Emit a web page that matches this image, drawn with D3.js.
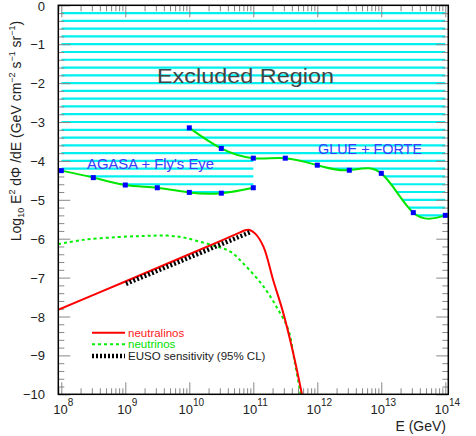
<!DOCTYPE html>
<html>
<head>
<meta charset="utf-8">
<script src="https://cdnjs.cloudflare.com/ajax/libs/d3/7.8.5/d3.min.js"></script>
<style>
body { margin: 0; background: #fff; }
text { font-family: "Liberation Sans", Arial, Helvetica, sans-serif; }
</style>
</head>
<body>
<div id="chart"></div>
<script>
// values: log10(E / GeV) and log10(E^2 dPhi/dE)
const agasaLogE = [8, 8.5, 9, 9.5, 10, 10.5, 11];
const agasaFlux = [-4.25, -4.43, -4.62, -4.69, -4.81, -4.83, -4.69];

const glueLogE = [10, 10.5, 11, 11.5, 12, 12.5, 13, 13.5, 14];
const glueFlux = [-3.15, -3.68, -3.93, -3.93, -4.11, -4.24, -4.32, -5.33, -5.40];

const neutralinoLogE = [7.95, 9, 10, 10.5, 10.75, 10.86, 10.93, 11.03, 11.16, 11.31, 11.47, 11.625, 11.76];
const neutralinoFlux = [-7.83, -7.10, -6.40, -6.05, -5.87, -5.79, -5.77, -5.87, -6.21, -7.06, -7.92, -8.95, -10.0];

const neutrinoLogE = [7.95, 8.34, 8.87, 9.3, 9.65, 9.91, 10.17, 10.43, 10.64, 10.84, 11.16, 11.39, 11.55, 11.65, 11.74];
const neutrinoFlux = [-6.14, -6.03, -5.96, -5.93, -5.92, -5.97, -6.08, -6.20, -6.33, -6.63, -7.23, -7.83, -8.35, -9.2, -10.0];

const eusoLogE = [9.01, 10.97];
const eusoFlux = [-7.16, -5.82];

const xTickExp = [8, 9, 10, 11, 12, 13, 14];
const yTickValues = [0, -1, -2, -3, -4, -5, -6, -7, -8, -9, -10];

const legendLabels = ["neutralinos", "neutrinos", "EUSO sensitivity (95% CL)"];

// dimensions
const W = 476, H = 436;
const margin = { top: 5.3, right: 27.7, bottom: 41.7, left: 58.3 };

const svg = d3.select("#chart").append("svg")
    .attr("width", W)
    .attr("height", H);

const x = d3.scaleLog()
    .domain([Math.pow(10, 7.953), Math.pow(10, 14.047)])
    .range([margin.left, W - margin.right]);
const y = d3.scaleLinear()
    .domain([-10, 0])
    .range([H - margin.bottom, margin.top]);

function pts(logE, flux) {
    return logE.map((e, i) => [Math.pow(10, e), flux[i]]);
}
const agasa = pts(agasaLogE, agasaFlux);
const glue = pts(glueLogE, glueFlux);

// plot clip
svg.append("clipPath").attr("id", "plotclip")
    .append("rect")
    .attr("x", margin.left).attr("y", margin.top)
    .attr("width", W - margin.left - margin.right)
    .attr("height", H - margin.top - margin.bottom);

// excluded region = union of areas above both limit curves
const area = d3.area()
    .curve(d3.curveNatural)
    .x(d => x(d[0]))
    .y0(y(0))
    .y1(d => y(d[1]));
const excl = svg.append("clipPath").attr("id", "exclclip");
excl.append("path").attr("d", area(agasa));
excl.append("path").attr("d", area(glue));

const hatchLevels = d3.range(-0.2, -5.81, -0.2);
svg.append("g")
    .attr("clip-path", "url(#exclclip)")
    .selectAll("line")
    .data(hatchLevels)
    .enter().append("line")
    .attr("x1", x(1e8))
    .attr("x2", x(1e14))
    .attr("y1", d => y(d))
    .attr("y2", d => y(d))
    .style("stroke", "#00f0f0")
    .style("stroke-width", 2.2);

svg.append("text")
    .attr("x", 157)
    .attr("y", 83)
    .attr("textLength", 177)
    .attr("lengthAdjust", "spacingAndGlyphs")
    .style("font-size", "21px")
    .style("fill", "#444")
    .text("Excluded Region");

// ticks (pointing into the frame), grey
const tickColor = "#888";
const majorX = xTickExp.map(e => Math.pow(10, e));
const minorX = [];
for (let e = 7; e <= 14; e++) {
    for (let k = 2; k <= 9; k++) {
        const v = k * Math.pow(10, e);
        if (v > x.domain()[0] && v < x.domain()[1]) minorX.push(v);
    }
}
const majorY = yTickValues;
const minorY = d3.range(-10, 0.01, 0.2).filter(v => Math.abs(v - Math.round(v)) > 0.01);

function drawTicks(axis, vals, size, tx, ty) {
    const g = svg.append("g")
        .attr("transform", "translate(" + tx + "," + ty + ")")
        .call(axis.tickValues(vals).tickSize(size).tickFormat(""));
    g.select(".domain").remove();
    g.selectAll("line").style("stroke", tickColor);
}
drawTicks(d3.axisBottom(x), majorX, -12, 0, y(-10));
drawTicks(d3.axisBottom(x), minorX, -6, 0, y(-10));
drawTicks(d3.axisTop(x), majorX, -12, 0, y(0));
drawTicks(d3.axisTop(x), minorX, -6, 0, y(0));
drawTicks(d3.axisLeft(y), majorY, -12, x.range()[0], 0);
drawTicks(d3.axisLeft(y), minorY, -6, x.range()[0], 0);
drawTicks(d3.axisRight(y), majorY, -12, x.range()[1], 0);
drawTicks(d3.axisRight(y), minorY, -6, x.range()[1], 0);

// limit curves
const line = d3.line()
    .curve(d3.curveNatural)
    .x(d => x(d[0]))
    .y(d => y(d[1]));

const plot = svg.append("g").attr("clip-path", "url(#plotclip)");

[agasa, glue].forEach(function (data) {
    plot.append("path")
        .attr("d", line(data))
        .style("fill", "none")
        .style("stroke", "#00e600")
        .style("stroke-width", 2);
});

const smooth = d3.line()
    .curve(d3.curveCatmullRom)
    .x(d => x(d[0]))
    .y(d => y(d[1]));

plot.append("path")
    .attr("d", smooth(pts(neutrinoLogE, neutrinoFlux)))
    .style("fill", "none")
    .style("stroke", "#00f000")
    .style("stroke-width", 2)
    .style("stroke-dasharray", "3,3");

plot.append("path")
    .attr("d", smooth(pts(neutralinoLogE, neutralinoFlux)))
    .style("fill", "none")
    .style("stroke", "#ff0000")
    .style("stroke-width", 2);

plot.append("path")
    .attr("d", d3.line().x(d => x(d[0])).y(d => y(d[1]))(pts(eusoLogE, eusoFlux)))
    .style("fill", "none")
    .style("stroke", "#000")
    .style("stroke-width", 4.5)
    .style("stroke-dasharray", "2,2");

// markers
plot.selectAll(".marker")
    .data(agasa.concat(glue))
    .enter().append("rect")
    .attr("class", "marker")
    .attr("x", d => x(d[0]) - 2.5)
    .attr("y", d => y(d[1]) - 2.5)
    .attr("width", 5)
    .attr("height", 5)
    .style("fill", "#0000ff");

// frame
svg.append("rect")
    .attr("x", x.range()[0])
    .attr("y", y(0))
    .attr("width", x.range()[1] - x.range()[0])
    .attr("height", y(-10) - y(0))
    .style("fill", "none")
    .style("stroke", "#000")
    .style("stroke-width", 1.5);

// data labels
svg.append("text")
    .attr("x", 87).attr("y", 169)
    .attr("textLength", 127)
    .attr("lengthAdjust", "spacingAndGlyphs")
    .style("font-size", "14px")
    .style("fill", "#3c3cff")
    .text("AGASA + Fly's Eye");
svg.append("text")
    .attr("x", 318).attr("y", 154)
    .attr("textLength", 104)
    .attr("lengthAdjust", "spacingAndGlyphs")
    .style("font-size", "14px")
    .style("fill", "#3c3cff")
    .text("GLUE + FORTE");

// tick labels
const xl = svg.append("g").selectAll("text")
    .data(xTickExp)
    .enter().append("text")
    .attr("x", d => x(Math.pow(10, d)) + 2)
    .attr("y", 414)
    .attr("text-anchor", "middle")
    .style("font-size", "13px")
    .style("fill", "#222");
xl.append("tspan").text("10");
xl.append("tspan")
    .attr("dy", -8)
    .style("font-size", "10px")
    .text(d => d);

svg.append("g").selectAll("text")
    .data(yTickValues)
    .enter().append("text")
    .attr("x", 45)
    .attr("y", d => d === 0 ? y(d) + 6 : y(d) + 5)
    .attr("text-anchor", "end")
    .style("font-size", "13px")
    .style("fill", "#222")
    .text(d => d === 0 ? "0" : "\u2212" + Math.abs(d));

// axis titles
svg.append("text")
    .attr("x", 446).attr("y", 431)
    .attr("text-anchor", "end")
    .style("font-size", "14px")
    .style("fill", "#222")
    .text("E (GeV)");

const yt = svg.append("text")
    .attr("transform", "translate(21,131) rotate(-90)")
    .attr("text-anchor", "middle")
    .style("font-size", "14px")
    .style("fill", "#222");
yt.append("tspan").text("Log");
yt.append("tspan").attr("dy", 3).style("font-size", "9px").text("10");
yt.append("tspan").attr("dy", -3).text(" E");
yt.append("tspan").attr("dy", -6).style("font-size", "9px").text("2");
yt.append("tspan").attr("dy", 6).text(" d\u03A6 /dE  (GeV cm");
yt.append("tspan").attr("dy", -6).style("font-size", "9px").text("\u22122");
yt.append("tspan").attr("dy", 6).text(" s");
yt.append("tspan").attr("dy", -6).style("font-size", "9px").text("\u22121");
yt.append("tspan").attr("dy", 6).text(" sr");
yt.append("tspan").attr("dy", -6).style("font-size", "9px").text("\u22121");
yt.append("tspan").attr("dy", 6).text(")");

// legend
const legendY = [332.7, 344.3, 356];
const legendStyle = [
    { color: "#ff0000", width: 2, dash: null },
    { color: "#00f000", width: 2, dash: "3,3" },
    { color: "#000", width: 4.5, dash: "2,2" }
];
const textColors = ["#ff2020", "#00e000", "#222"];
legendLabels.forEach(function (lab, i) {
    svg.append("line")
        .attr("x1", 92).attr("x2", 125)
        .attr("y1", legendY[i]).attr("y2", legendY[i])
        .style("stroke", legendStyle[i].color)
        .style("stroke-width", legendStyle[i].width)
        .style("stroke-dasharray", legendStyle[i].dash);
    svg.append("text")
        .attr("x", 128)
        .attr("y", legendY[i] + 4)
        .style("font-size", "11.5px")
        .style("fill", textColors[i])
        .text(lab);
});
</script>
</body>
</html>
